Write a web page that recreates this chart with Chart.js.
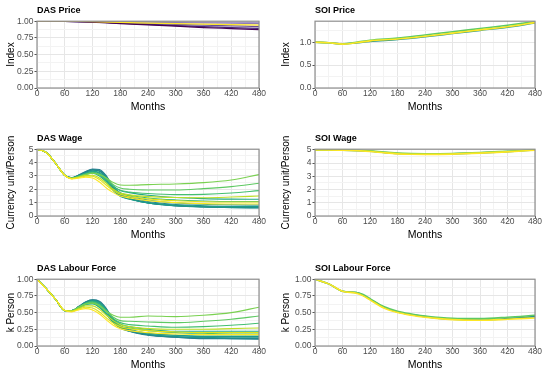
<!DOCTYPE html>
<html>
<head>
<meta charset="utf-8">
<script src="https://cdn.jsdelivr.net/npm/chart.js@4"></script>
<style>
  body { margin: 0; background: #fff; width: 550px; height: 377px; position: relative; overflow: hidden; }
  canvas { position: absolute; }
</style>
</head>
<body>
<canvas id="dasPrice" width="275" height="115" style="left:0;top:0"></canvas>
<canvas id="soiPrice" width="275" height="115" style="left:275px;top:0"></canvas>
<canvas id="dasWage" width="275" height="115" style="left:0;top:128px"></canvas>
<canvas id="soiWage" width="275" height="115" style="left:275px;top:128px"></canvas>
<canvas id="dasLabour" width="275" height="115" style="left:0;top:258px"></canvas>
<canvas id="soiLabour" width="275" height="115" style="left:275px;top:258px"></canvas>
<script>
// x ticks (minor every 30, labels every 60)
const monthTicks = [0, 30, 60, 90, 120, 150, 180, 210, 240, 270, 300, 330, 360, 390, 420, 450, 480];

// note: chart.js draws the first dataset on top

// DAS Price
const priceMonths = [0, 60, 120, 180, 240, 300, 360, 420, 480];
const dasPriceColors = ['#fde725', '#440154', '#482878', '#6a4c93', '#8e7cb5', '#a99bc8'];
const dasPrice = [
  [1, 0.999, 0.993, 0.982, 0.972, 0.963, 0.955, 0.948, 0.942],
  [1, 0.997, 0.985, 0.965, 0.945, 0.925, 0.905, 0.89, 0.875],
  [1, 0.997, 0.987, 0.97, 0.952, 0.935, 0.918, 0.905, 0.893],
  [1, 0.998, 0.99, 0.978, 0.965, 0.952, 0.94, 0.93, 0.92],
  [1, 0.999, 0.995, 0.99, 0.985, 0.98, 0.975, 0.97, 0.965],
  [1, 1, 0.998, 0.995, 0.992, 0.99, 0.987, 0.984, 0.98]
];

// SOI Price
const soiPriceMonths = [0, 30, 60, 90, 120, 180, 240, 300, 360, 420, 480];
const soiPriceColors = ['#fde725', '#5ec962', '#21918c'];
const soiPrice = [
  [1.0, 0.99, 0.96, 0.99, 1.03, 1.07, 1.13, 1.2, 1.27, 1.34, 1.43],
  [1.0, 0.99, 0.965, 1.0, 1.045, 1.09, 1.16, 1.23, 1.30, 1.37, 1.45],
  [1.0, 0.99, 0.96, 0.985, 1.02, 1.06, 1.12, 1.19, 1.26, 1.33, 1.42]
];

// DAS Wage and DAS Labour Force share one month grid
const dasMonths = [0, 20, 40, 60, 75, 90, 105, 120, 135, 150, 165, 180, 200, 240, 300, 360, 420, 480];
const dasColors = ['#fde725', '#dfe318', '#bddf26', '#7ad151', '#5ec962', '#44bf70', '#22a884',
  '#2fb47c', '#1e9c89', '#21918c', '#26828e', '#1f988b', '#23898e', '#2a788e'];
const dasWage = [
  [5.0, 4.75, 3.95, 3.05, 2.78, 2.82, 2.9, 2.85, 2.55, 2.1, 1.75, 1.5, 1.35, 1.15, 1.0, 0.93, 0.9, 0.9],
  [5.0, 4.75, 3.95, 3.05, 2.8, 2.88, 2.98, 2.98, 2.72, 2.3, 1.9, 1.62, 1.45, 1.28, 1.14, 1.07, 1.05, 1.05],
  [5.0, 4.75, 3.95, 3.05, 2.8, 2.9, 3.02, 3.05, 2.85, 2.45, 2.0, 1.72, 1.58, 1.45, 1.38, 1.37, 1.42, 1.5],
  [5.0, 4.75, 3.95, 3.05, 2.82, 2.95, 3.1, 3.2, 3.1, 2.85, 2.5, 2.32, 2.3, 2.35, 2.4, 2.5, 2.7, 3.1],
  [5.0, 4.75, 3.95, 3.05, 2.82, 2.95, 3.12, 3.22, 3.1, 2.8, 2.35, 2.1, 2.0, 1.95, 1.95, 2.05, 2.2, 2.45],
  [5.0, 4.75, 3.95, 3.05, 2.83, 2.97, 3.15, 3.25, 3.12, 2.75, 2.2, 1.92, 1.8, 1.68, 1.6, 1.62, 1.72, 1.9],
  [5.0, 4.75, 3.95, 3.05, 2.84, 3.0, 3.2, 3.35, 3.25, 2.85, 2.25, 1.9, 1.75, 1.55, 1.38, 1.3, 1.26, 1.25],
  [5.0, 4.75, 3.95, 3.05, 2.83, 2.97, 3.12, 3.2, 3.0, 2.55, 2.0, 1.7, 1.55, 1.35, 1.2, 1.12, 1.08, 1.08],
  [5.0, 4.75, 3.95, 3.05, 2.84, 2.98, 3.15, 3.28, 3.1, 2.6, 1.9, 1.47, 1.25, 0.98, 0.8, 0.73, 0.7, 0.7],
  [5.0, 4.75, 3.95, 3.05, 2.85, 3.0, 3.2, 3.35, 3.2, 2.7, 1.95, 1.5, 1.27, 0.97, 0.76, 0.67, 0.63, 0.6],
  [5.0, 4.75, 3.95, 3.05, 2.86, 3.04, 3.27, 3.44, 3.36, 2.85, 2.05, 1.55, 1.3, 0.98, 0.77, 0.68, 0.64, 0.62],
  [5.0, 4.75, 3.95, 3.05, 2.85, 3.02, 3.25, 3.42, 3.35, 2.9, 2.2, 1.75, 1.5, 1.2, 0.98, 0.88, 0.84, 0.82],
  [5.0, 4.75, 3.95, 3.05, 2.86, 3.05, 3.3, 3.48, 3.42, 2.95, 2.15, 1.65, 1.4, 1.08, 0.86, 0.77, 0.73, 0.72],
  [5.0, 4.75, 3.95, 3.05, 2.87, 3.07, 3.33, 3.52, 3.48, 3.0, 2.1, 1.58, 1.32, 1.0, 0.78, 0.7, 0.66, 0.65]
];
const dasLabour = [
  [1.0, 0.86, 0.7, 0.53, 0.51, 0.54, 0.56, 0.54, 0.48, 0.39, 0.31, 0.26, 0.23, 0.2, 0.18, 0.17, 0.17, 0.17],
  [1.0, 0.86, 0.7, 0.53, 0.52, 0.55, 0.58, 0.57, 0.51, 0.42, 0.34, 0.29, 0.26, 0.23, 0.21, 0.2, 0.2, 0.2],
  [1.0, 0.86, 0.7, 0.53, 0.52, 0.56, 0.6, 0.6, 0.55, 0.46, 0.38, 0.32, 0.29, 0.26, 0.25, 0.25, 0.26, 0.27],
  [1.0, 0.86, 0.7, 0.53, 0.53, 0.58, 0.63, 0.64, 0.6, 0.52, 0.46, 0.43, 0.43, 0.45, 0.44, 0.46, 0.5, 0.58],
  [1.0, 0.86, 0.7, 0.53, 0.53, 0.58, 0.63, 0.65, 0.61, 0.52, 0.43, 0.38, 0.37, 0.36, 0.35, 0.37, 0.4, 0.45],
  [1.0, 0.86, 0.7, 0.53, 0.53, 0.58, 0.64, 0.66, 0.62, 0.52, 0.41, 0.35, 0.32, 0.3, 0.28, 0.29, 0.31, 0.34],
  [1.0, 0.86, 0.7, 0.53, 0.53, 0.58, 0.64, 0.67, 0.64, 0.54, 0.41, 0.33, 0.29, 0.25, 0.22, 0.22, 0.22, 0.22],
  [1.0, 0.86, 0.7, 0.53, 0.52, 0.57, 0.62, 0.63, 0.58, 0.48, 0.37, 0.3, 0.27, 0.23, 0.2, 0.19, 0.18, 0.18],
  [1.0, 0.86, 0.7, 0.53, 0.52, 0.57, 0.62, 0.64, 0.58, 0.47, 0.35, 0.28, 0.24, 0.19, 0.16, 0.15, 0.15, 0.15],
  [1.0, 0.86, 0.7, 0.53, 0.52, 0.57, 0.63, 0.65, 0.6, 0.49, 0.35, 0.27, 0.22, 0.17, 0.14, 0.13, 0.12, 0.12],
  [1.0, 0.86, 0.7, 0.53, 0.53, 0.58, 0.65, 0.67, 0.63, 0.52, 0.37, 0.28, 0.23, 0.17, 0.13, 0.12, 0.11, 0.1],
  [1.0, 0.86, 0.7, 0.53, 0.53, 0.58, 0.65, 0.68, 0.65, 0.55, 0.4, 0.3, 0.25, 0.19, 0.16, 0.14, 0.14, 0.14],
  [1.0, 0.86, 0.7, 0.53, 0.53, 0.59, 0.66, 0.69, 0.66, 0.55, 0.39, 0.29, 0.23, 0.17, 0.14, 0.12, 0.12, 0.12],
  [1.0, 0.86, 0.7, 0.53, 0.53, 0.59, 0.66, 0.69, 0.67, 0.56, 0.38, 0.28, 0.22, 0.16, 0.13, 0.11, 0.11, 0.11]
];

// SOI Wage
const soiWageMonths = [0, 60, 120, 150, 180, 210, 240, 300, 360, 420, 480];
const soiWageColors = ['#fde725', '#7ad151', '#21918c'];
const soiWage = [
  [5.0, 4.98, 4.88, 4.78, 4.7, 4.67, 4.66, 4.68, 4.75, 4.85, 4.98],
  [5.0, 4.99, 4.92, 4.83, 4.76, 4.72, 4.71, 4.73, 4.8, 4.9, 5.0],
  [5.0, 4.98, 4.9, 4.8, 4.72, 4.69, 4.68, 4.7, 4.77, 4.87, 4.99]
];

// SOI Labour Force
const soiLabourMonths = [0, 30, 60, 90, 105, 120, 150, 180, 210, 240, 300, 360, 420, 480];
const soiLabourColors = ['#fde725', '#5ec962', '#21918c'];
const soiLabour = [
  [1.0, 0.93, 0.82, 0.79, 0.75, 0.69, 0.57, 0.5, 0.46, 0.43, 0.395, 0.385, 0.4, 0.42],
  [1.0, 0.93, 0.82, 0.8, 0.77, 0.71, 0.59, 0.52, 0.48, 0.45, 0.415, 0.41, 0.43, 0.46],
  [1.0, 0.93, 0.82, 0.8, 0.76, 0.70, 0.58, 0.51, 0.47, 0.44, 0.40, 0.39, 0.41, 0.44]
];

// y ticks
const unitTicks = [0, 0.125, 0.25, 0.375, 0.5, 0.625, 0.75, 0.875, 1];
const soiPriceTicks = [0, 0.25, 0.5, 0.75, 1, 1.25];
const wageTicks = [0, 0.5, 1, 1.5, 2, 2.5, 3, 3.5, 4, 4.5, 5];

const FONT = "'Liberation Sans', Arial, sans-serif";

const panelBorder = {
  id: 'panelBorder',
  afterDatasetsDraw(chart) {
    const { ctx, chartArea: a } = chart;
    ctx.save();
    ctx.strokeStyle = '#8f8f8f';
    ctx.lineWidth = 1.2;
    ctx.strokeRect(a.left, a.top, a.right - a.left, a.bottom - a.top);
    ctx.restore();
  }
};

function isMultiple(v, step) {
  const r = v / step;
  return Math.abs(r - Math.round(r)) < 1e-6;
}

function makeChart(id, title, yTitle, xs, series, colors, yTicks, yStep, yDec, yMax, leftWidth, rightPad, lineW) {
  const datasets = series.map((vals, i) => ({
    data: xs.map((m, j) => ({ x: m, y: vals[j] })),
    borderColor: colors[i],
    borderWidth: lineW,
    pointRadius: 0,
    cubicInterpolationMode: 'monotone',
    fill: false
  }));

  return new Chart(document.getElementById(id), {
    type: 'line',
    data: { datasets },
    plugins: [panelBorder],
    options: {
      responsive: false,
      animation: false,
      devicePixelRatio: 1,
      layout: { padding: { left: 0, right: rightPad, top: 0, bottom: 0 } },
      plugins: {
        legend: { display: false },
        tooltip: { enabled: false },
        title: {
          display: true, text: title, align: 'start', fullSize: false, color: '#000',
          font: { family: FONT, size: 9, weight: 'bold' },
          padding: { top: 5.6, bottom: 4.8 }
        }
      },
      scales: {
        x: {
          type: 'linear', min: 0, max: 480,
          afterBuildTicks: s => { s.ticks = monthTicks.map(v => ({ value: v })); },
          afterFit: s => { s.height = 27; },
          ticks: {
            autoSkip: false, maxRotation: 0, padding: -2, color: '#4d4d4d',
            font: { family: FONT, size: 8.5 },
            callback: v => isMultiple(v, 60) ? String(v) : ''
          },
          grid: {
            tickLength: 2.5,
            color: c => (c.tick && isMultiple(c.tick.value, 60)) ? '#e6e6e6' : '#f3f3f3',
            tickColor: c => (c.tick && isMultiple(c.tick.value, 60)) ? '#555' : 'rgba(0,0,0,0)'
          },
          border: { display: false },
          title: {
            display: true, text: 'Months', color: '#000',
            font: { family: FONT, size: 10.5 }, padding: { top: 0, bottom: 1.5 }
          }
        },
        y: {
          min: 0, max: yMax,
          afterBuildTicks: s => { s.ticks = yTicks.map(v => ({ value: v })); },
          afterFit: s => { s.width = leftWidth; },
          ticks: {
            autoSkip: false, padding: 1, color: '#4d4d4d',
            font: { family: FONT, size: 8.5 },
            callback: v => isMultiple(v, yStep) ? v.toFixed(yDec) : ''
          },
          grid: {
            tickLength: 2.5,
            color: c => (c.tick && isMultiple(c.tick.value, yStep)) ? '#e6e6e6' : '#f3f3f3',
            tickColor: c => (c.tick && isMultiple(c.tick.value, yStep)) ? '#555' : 'rgba(0,0,0,0)'
          },
          border: { display: false },
          title: {
            display: true, text: yTitle, color: '#000',
            font: { family: FONT, size: 10 }, padding: { top: 5, bottom: 0 }
          }
        }
      }
    }
  });
}

makeChart('dasPrice', 'DAS Price', 'Index', priceMonths, dasPrice, dasPriceColors, unitTicks, 0.25, 2, 1, 37, 16, 1.2);
makeChart('soiPrice', 'SOI Price', 'Index', soiPriceMonths, soiPrice, soiPriceColors, soiPriceTicks, 0.5, 1, 1.46, 40, 15, 1.6);
makeChart('dasWage', 'DAS Wage', 'Currency unit/Person', dasMonths, dasWage, dasColors, wageTicks, 1, 0, 5, 37, 16, 1.1);
makeChart('soiWage', 'SOI Wage', 'Currency unit/Person', soiWageMonths, soiWage, soiWageColors, wageTicks, 1, 0, 5.05, 40, 15, 1.6);
makeChart('dasLabour', 'DAS Labour Force', 'k Person', dasMonths, dasLabour, dasColors, unitTicks, 0.25, 2, 1, 37, 16, 1.1);
makeChart('soiLabour', 'SOI Labour Force', 'k Person', soiLabourMonths, soiLabour, soiLabourColors, unitTicks, 0.25, 2, 1, 40, 15, 1.6);
</script>
</body>
</html>
